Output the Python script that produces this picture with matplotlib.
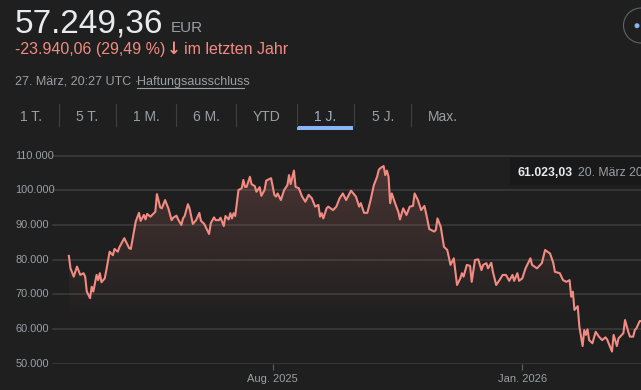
import numpy as np
import pandas as pd
import matplotlib
matplotlib.use("Agg")
import matplotlib.pyplot as plt
import matplotlib.dates as mdates
from matplotlib.colors import to_rgb
from matplotlib.patches import Rectangle, Ellipse
from matplotlib.transforms import blended_transform_factory

# ======================== data (EUR)
dates = [
    "2025-03-29", "2025-03-30", "2025-04-01", "2025-04-03", "2025-04-05", "2025-04-07", "2025-04-08",
    "2025-04-09", "2025-04-11", "2025-04-12", "2025-04-13", "2025-04-15", "2025-04-16", "2025-04-17",
    "2025-04-18", "2025-04-20", "2025-04-21", "2025-04-23", "2025-04-25", "2025-04-26", "2025-04-28",
    "2025-04-29", "2025-05-02", "2025-05-03", "2025-05-05", "2025-05-06", "2025-05-09", "2025-05-11",
    "2025-05-12", "2025-05-14", "2025-05-15", "2025-05-16", "2025-05-18", "2025-05-21", "2025-05-22",
    "2025-05-24", "2025-05-25", "2025-05-27", "2025-05-29", "2025-05-31", "2025-06-01", "2025-06-03",
    "2025-06-04", "2025-06-06", "2025-06-07", "2025-06-08", "2025-06-10", "2025-06-11", "2025-06-13",
    "2025-06-15", "2025-06-17", "2025-06-18", "2025-06-20", "2025-06-23", "2025-06-24", "2025-06-26",
    "2025-06-27", "2025-06-29", "2025-06-30", "2025-07-02", "2025-07-03", "2025-07-05", "2025-07-06",
    "2025-07-07", "2025-07-08", "2025-07-09", "2025-07-11", "2025-07-13", "2025-07-14", "2025-07-15",
    "2025-07-16", "2025-07-18", "2025-07-19", "2025-07-21", "2025-07-22", "2025-07-24", "2025-07-25",
    "2025-07-27", "2025-07-28", "2025-07-31", "2025-08-02", "2025-08-03", "2025-08-04", "2025-08-06",
    "2025-08-08", "2025-08-10", "2025-08-11", "2025-08-12", "2025-08-14", "2025-08-15", "2025-08-17",
    "2025-08-19", "2025-08-21", "2025-08-23", "2025-08-25", "2025-08-27", "2025-08-29", "2025-08-30",
    "2025-08-31", "2025-09-01", "2025-09-03", "2025-09-04", "2025-09-07", "2025-09-09", "2025-09-11",
    "2025-09-13", "2025-09-15", "2025-09-18", "2025-09-21", "2025-09-23", "2025-09-24", "2025-09-26",
    "2025-09-28", "2025-09-30", "2025-10-02", "2025-10-04", "2025-10-05", "2025-10-06", "2025-10-08",
    "2025-10-09", "2025-10-10", "2025-10-11", "2025-10-12", "2025-10-13", "2025-10-15", "2025-10-17",
    "2025-10-18", "2025-10-20", "2025-10-22", "2025-10-24", "2025-10-26", "2025-10-27", "2025-10-29",
    "2025-10-31", "2025-11-02", "2025-11-03", "2025-11-05", "2025-11-06", "2025-11-08", "2025-11-09",
    "2025-11-10", "2025-11-12", "2025-11-14", "2025-11-16", "2025-11-18", "2025-11-20", "2025-11-22",
    "2025-11-24", "2025-11-25", "2025-11-26", "2025-11-28", "2025-11-30", "2025-12-01", "2025-12-03",
    "2025-12-05", "2025-12-07", "2025-12-08", "2025-12-10", "2025-12-11", "2025-12-13", "2025-12-14",
    "2025-12-16", "2025-12-18", "2025-12-20", "2025-12-22", "2025-12-24", "2025-12-26", "2025-12-27",
    "2025-12-29", "2025-12-30", "2026-01-01", "2026-01-03", "2026-01-06", "2026-01-07", "2026-01-10",
    "2026-01-12", "2026-01-13", "2026-01-15", "2026-01-17", "2026-01-18", "2026-01-20", "2026-01-21",
    "2026-01-24", "2026-01-26", "2026-01-28", "2026-01-30", "2026-01-31", "2026-02-01", "2026-02-02",
    "2026-02-04", "2026-02-05", "2026-02-07", "2026-02-08", "2026-02-09", "2026-02-10", "2026-02-11",
    "2026-02-13", "2026-02-15", "2026-02-17", "2026-02-19", "2026-02-21", "2026-02-22", "2026-02-25",
    "2026-02-26", "2026-02-28", "2026-03-01", "2026-03-03", "2026-03-04", "2026-03-05", "2026-03-07",
    "2026-03-08", "2026-03-10", "2026-03-11", "2026-03-12", "2026-03-14", "2026-03-15", "2026-03-20",
    "2026-03-27",
]
prices = [
    81100, 77500, 75100, 78000, 75600, 76100, 75100,
    70800, 68900, 72200, 70800, 75600, 74100, 76100,
    73500, 74600, 77000, 82300, 81300, 83100, 82300,
    83600, 86200, 85200, 83300, 83100, 91000, 93500,
    91200, 92900, 91600, 93200, 92400, 93800, 98900,
    95100, 94800, 97200, 94800, 91400, 92100, 92700,
    91600, 90000, 91900, 92600, 96000, 94800, 90300,
    91400, 93500, 91200, 90300, 87400, 90500, 92200,
    91400, 91400, 92100, 89700, 92600, 91600, 93400,
    91900, 93400, 92600, 100100, 100600, 103000, 101000,
    101000, 103900, 101800, 101200, 99600, 100900, 98400,
    100100, 102800, 103500, 98700, 98200, 99100, 97200,
    100100, 101500, 104400, 101800, 105700, 101000, 100600,
    98200, 96700, 98700, 97700, 95300, 95800, 92400,
    93400, 91900, 94800, 95300, 94300, 95300, 97700,
    99100, 97200, 99900, 98200, 95300, 96300, 93500,
    93500, 97200, 101500, 103900, 105900, 106400, 107000,
    104400, 105700, 103900, 96300, 99100, 96300, 93800,
    91600, 94800, 92900, 95300, 95500, 99100, 97200,
    94300, 95500, 93400, 88800, 88600, 88100, 88600,
    91900, 89500, 83700, 82800, 78500, 80400, 72700,
    74600, 76100, 75100, 78500, 78200, 73600, 79900,
    80100, 77000, 78500, 79000, 77500, 79100, 76500,
    72700, 74100, 75600, 75600, 73900, 75600, 73900,
    76100, 73900, 74600, 77500, 80400, 78500, 77500,
    78500, 79000, 82800, 82100, 81800, 79100, 76500,
    76100, 74100, 73600, 74100, 69300, 70800, 65500,
    66600, 60700, 55100, 59700, 58300, 59900, 56800,
    55900, 59200, 57800, 56800, 57600, 57000, 53500,
    58300, 55100, 57300, 58300, 58800, 62600, 59200,
    57800, 57800, 59700, 60200, 62300, 62300, 61023,
    57249,
]

ytick_values = [50000, 60000, 70000, 80000, 90000, 100000, 110000]
ytick_labels = ["50.000", "60.000", "70.000", "80.000", "90.000", "100.000", "110.000"]
xtick_dates = ["2025-08-01", "2026-01-01"]
xtick_labels = ["Aug. 2025", "Jan. 2026"]
tabs = ["1 T.", "5 T.", "1 M.", "6 M.", "YTD", "1 J.", "5 J.", "Max."]
selected_tab = "1 J."

price_text = "57.249,36"
currency = "EUR"
change_text = "-23.940,06 (29,49 %)"
change_suffix = "im letzten Jahr"
stamp_text = "27. März, 20:27 UTC · "
disclaimer = "Haftungsausschluss"
tooltip_value = "61.023,03"
tooltip_date = "20. März 2026"

# ======================== style
W, H = 641, 390
BG = "#1f1f1f"
LINE = "#f28b82"
GRID = "#3c3c3c"
GREY = "#9aa0a6"
WHITE = "#e8eaed"
BLUE = "#8ab4f8"

plt.rcParams["font.family"] = ["Liberation Sans", "DejaVu Sans"]


def fx(px):
    return px / W


def fy(py):
    return 1 - py / H


fig = plt.figure(figsize=(W / 100, H / 100), dpi=100, facecolor=BG)

# ======================== header
fig.text(fx(15), fy(32.3), price_text, color=WHITE, fontsize=24, va="baseline")
fig.text(fx(171), fy(32.3), currency, color=GREY, fontsize=11, va="baseline")
fig.text(fx(15), fy(54.3), change_text, color=LINE, fontsize=11.5, va="baseline")
fig.text(fx(173.5), fy(54.3), "\u2193", color=LINE, fontsize=12, fontweight="bold",
         family="DejaVu Sans", ha="center", va="baseline")
fig.text(fx(184), fy(54.3), change_suffix, color=LINE, fontsize=11.5, va="baseline")
fig.text(fx(15), fy(85), stamp_text, color=GREY, fontsize=9, va="baseline")
fig.text(fx(137.3), fy(85), disclaimer, color=GREY, fontsize=9, va="baseline")
fig.add_artist(plt.Line2D([fx(137.3), fx(244)], [fy(87.8), fy(87.8)], color=GREY, lw=0.8))

# share button, cut off at right edge
fig.add_artist(Ellipse((fx(641), fy(25.5)), 35 / W, 35 / H, transform=fig.transFigure,
                       facecolor="none", edgecolor="#5f6368", lw=0.8))
fig.add_artist(Ellipse((fx(637), fy(25.7)), 5 / W, 5 / H, transform=fig.transFigure,
                       facecolor=BLUE, edgecolor="none"))

# ======================== range tabs
tab_centers = [31, 86.7, 146.7, 206, 266.3, 325.5, 383, 443.3]
sep_x = [59.3, 116.3, 176.3, 236.3, 297.3, 354.3, 411.3]
for name, cx in zip(tabs, tab_centers):
    col = "#a3b3cc" if name == selected_tab else GREY
    fig.text(fx(cx), fy(120.7), name, color=col, fontsize=10, ha="center", va="baseline")
for sx in sep_x:
    fig.add_artist(plt.Line2D([fx(sx), fx(sx)], [fy(104), fy(126)], color="#3c4043", lw=0.8))
fig.add_artist(Rectangle((fx(297.3), fy(129.5)), fx(353.3) - fx(297.3), 3.5 / H,
                         transform=fig.transFigure, facecolor=BLUE, edgecolor="none"))

# ======================== chart
ymin, ymax = 50000, 113072
ax = fig.add_axes([fx(52), fy(363.7), fx(641) - fx(52), fy(145) - fy(363.7)])
ax.set_facecolor("none")

x = mdates.date2num(pd.to_datetime(dates))
y = np.array(prices, dtype=float)
xlo = mdates.date2num(pd.Timestamp("2025-03-18 16:00"))
xhi = mdates.date2num(pd.Timestamp("2026-03-14 19:00"))

for v in ytick_values:
    ax.axhline(v, color=GRID, lw=1.1, zorder=0)

# gradient fill under the line
poly = ax.fill_between(x, y, ymin, color="none", lw=0)
grad = np.zeros((256, 1, 4))
grad[..., :3] = to_rgb(LINE)
levels = np.linspace(ymin, ymax, 256)
grad[:, 0, 3] = np.clip((levels - 62000) / (107000 - 62000), 0, 1) * 0.2
im = ax.imshow(grad, extent=[x.min(), x.max(), ymin, ymax], origin="lower",
               aspect="auto", zorder=1, interpolation="bilinear")
im.set_clip_path(poly.get_paths()[0], transform=ax.transData)

ax.plot(x, y, color=LINE, lw=1.5, zorder=3, solid_joinstyle="round")

ax.set_xlim(xlo, xhi)
ax.set_ylim(ymin, ymax)
for s in ax.spines.values():
    s.set_visible(False)
ax.set_yticks([])
ax.set_xticks(mdates.date2num(pd.to_datetime(xtick_dates)))
ax.set_xticklabels(xtick_labels)
ax.tick_params(axis="x", length=4.5, width=0.8, color="#5f6368", pad=3,
               labelsize=8, labelcolor=GREY)

trans = blended_transform_factory(fig.transFigure, ax.transData)
for v, lab in zip(ytick_values, ytick_labels):
    fig.text(fx(15.5), v, lab, transform=trans, color=GREY, fontsize=7.9,
             ha="left", va="center")

# tooltip (cut off at the right edge, as in the screenshot)
fig.add_artist(Rectangle((fx(510), fy(185)), fx(700) - fx(510), 27 / H,
                         transform=fig.transFigure, facecolor="#191919", edgecolor="none", zorder=5))
fig.text(fx(518), fy(175.7), tooltip_value, color=WHITE, fontsize=8.8,
         fontweight="bold", va="baseline", zorder=6)
fig.text(fx(578.3), fy(175.7), tooltip_date, color=GREY, fontsize=8.8, va="baseline", zorder=6)

fig.savefig("out.png", dpi=100, facecolor=BG)
